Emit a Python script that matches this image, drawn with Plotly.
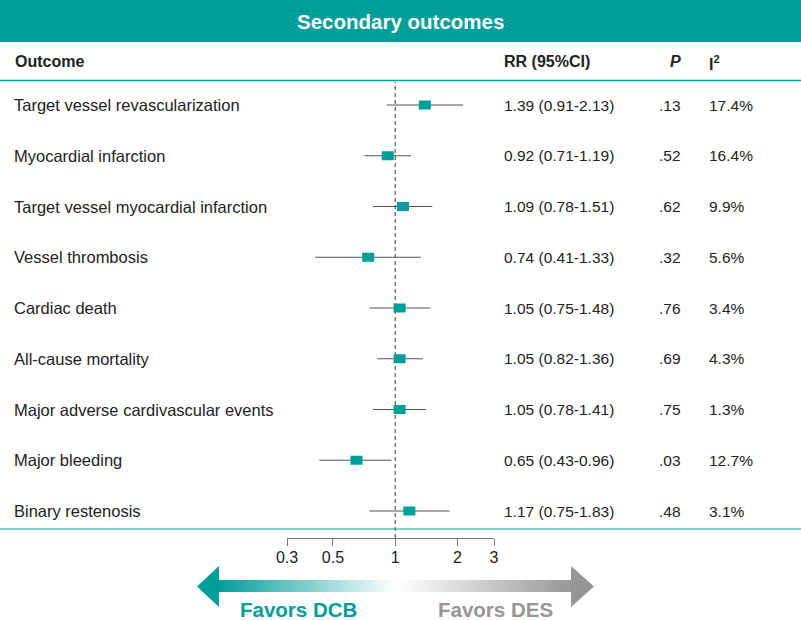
import math
import plotly.graph_objects as go

# ---------------- data ----------------
outcomes = [
    "Target vessel revascularization",
    "Myocardial infarction",
    "Target vessel myocardial infarction",
    "Vessel thrombosis",
    "Cardiac death",
    "All-cause mortality",
    "Major adverse cardivascular events",
    "Major bleeding",
    "Binary restenosis",
]
rr = [1.39, 0.92, 1.09, 0.74, 1.05, 1.05, 1.05, 0.65, 1.17]
ci_lo = [0.91, 0.71, 0.78, 0.41, 0.75, 0.82, 0.78, 0.43, 0.75]
ci_hi = [2.13, 1.19, 1.51, 1.33, 1.48, 1.36, 1.41, 0.96, 1.83]
p_vals = [".13", ".52", ".62", ".32", ".76", ".69", ".75", ".03", ".48"]
i2_vals = ["17.4%", "16.4%", "9.9%", "5.6%", "3.4%", "4.3%", "1.3%", "12.7%", "3.1%"]
tick_vals = [0.3, 0.5, 1, 2, 3]
tick_text = ["0.3", "0.5", "1", "2", "3"]

# ---------------- style ----------------
W, H = 801, 620
TEAL = "#009E9A"
TXT = "#222222"
FONT = "Liberation Sans, Arial, sans-serif"


def px(x):
    return x / W


def py(y):
    return 1 - y / H


row_top, row_step = 105.0, 50.75
y_range = [(H - row_top) / row_step, -row_top / row_step]

lx = [math.log10(v) for v in rr]
err_plus = [math.log10(h) - math.log10(v) for h, v in zip(ci_hi, rr)]
err_minus = [math.log10(v) - math.log10(l) for l, v in zip(ci_lo, rr)]
rows = list(range(len(outcomes)))

fig = go.Figure()
fig.add_trace(go.Scatter(
    x=lx, y=rows, mode="markers",
    marker=dict(size=1, color="rgba(0,0,0,0)"),
    error_x=dict(type="data", symmetric=False, array=err_plus, arrayminus=err_minus,
                 color="#555555", thickness=1.1, width=0),
    hoverinfo="skip", showlegend=False, cliponaxis=False,
))

shapes = []
shapes.append(dict(type="rect", xref="paper", yref="paper", x0=0, x1=1, y0=py(42), y1=1,
                   fillcolor=TEAL, line_width=0, layer="below"))
shapes.append(dict(type="line", xref="paper", yref="paper", x0=0, x1=1, y0=py(80.5), y1=py(80.5),
                   line=dict(color=TEAL, width=1.6)))
shapes.append(dict(type="line", xref="paper", yref="paper", x0=0, x1=1, y0=py(529), y1=py(529),
                   line=dict(color=TEAL, width=1.2)))
shapes.append(dict(type="line", xref="x", yref="paper", x0=0, x1=0, y0=py(538), y1=py(82),
                   line=dict(color="#666666", width=1.3, dash="4px,3px"), layer="below"))
for xv, r in zip(lx, rows):
    shapes.append(dict(type="rect", xref="x", yref="y", xsizemode="pixel", ysizemode="pixel",
                       xanchor=xv, yanchor=r, x0=-6, x1=6, y0=-4.5, y1=4.5,
                       fillcolor=TEAL, line_width=0))


def lerp(c1, c2, t):
    return "rgb(%d,%d,%d)" % tuple(round(a + (b - a) * t) for a, b in zip(c1, c2))


teal_rgb, white_rgb, gray_rgb = (0, 158, 154), (255, 255, 255), (150, 150, 153)
N = 60
sy0, sy1 = 580, 592
lx0, lx1 = 218, 396
for k in range(N):
    a = lx0 + (lx1 - lx0) * k / N
    b = lx0 + (lx1 - lx0) * (k + 1) / N + 0.6
    shapes.append(dict(type="rect", xref="paper", yref="paper", x0=px(a), x1=px(b),
                       y0=py(sy1), y1=py(sy0), fillcolor=lerp(teal_rgb, white_rgb, (k + 0.5) / N),
                       line_width=0))
rx0, rx1 = 399, 572
for k in range(N):
    a = rx0 + (rx1 - rx0) * k / N
    b = rx0 + (rx1 - rx0) * (k + 1) / N + 0.6
    shapes.append(dict(type="rect", xref="paper", yref="paper", x0=px(a), x1=px(b),
                       y0=py(sy1), y1=py(sy0), fillcolor=lerp(white_rgb, gray_rgb, (k + 0.5) / N),
                       line_width=0))
shapes.append(dict(type="path", xref="paper", yref="paper",
                   path="M %f,%f L %f,%f L %f,%f Z" % (px(197), py(586.5), px(219), py(566), px(219), py(607)),
                   fillcolor=TEAL, line_width=0))
shapes.append(dict(type="path", xref="paper", yref="paper",
                   path="M %f,%f L %f,%f L %f,%f Z" % (px(594), py(586.5), px(571), py(566), px(571), py(607)),
                   fillcolor="rgb(150,150,153)", line_width=0))

ann = []
ann.append(dict(text="<b>Secondary outcomes</b>", xref="paper", yref="paper", x=px(400), y=py(21),
                xanchor="center", yanchor="middle", showarrow=False,
                font=dict(family=FONT, size=20.5, color="white")))
hdr_y = py(61)
ann.append(dict(text="<b>Outcome</b>", xref="paper", yref="paper", x=px(13), y=hdr_y,
                xanchor="left", yanchor="middle", showarrow=False, font=dict(family=FONT, size=16, color=TXT)))
ann.append(dict(text="<b>RR (95%CI)</b>", xref="paper", yref="paper", x=px(502), y=hdr_y,
                xanchor="left", yanchor="middle", showarrow=False, font=dict(family=FONT, size=16, color=TXT)))
ann.append(dict(text="<b><i>P</i></b>", xref="paper", yref="paper", x=px(683), y=hdr_y,
                xanchor="right", yanchor="middle", showarrow=False, font=dict(family=FONT, size=16, color=TXT)))
ann.append(dict(text="<b>I<sup>2</sup></b>", xref="paper", yref="paper", x=px(707), y=hdr_y - 0.003,
                xanchor="left", yanchor="middle", showarrow=False, font=dict(family=FONT, size=16, color=TXT)))

for r, name, v, l, h, p, i2 in zip(rows, outcomes, rr, ci_lo, ci_hi, p_vals, i2_vals):
    ann.append(dict(text=name, xref="paper", yref="y", x=px(12), y=r, xanchor="left", yanchor="middle",
                    showarrow=False, font=dict(family=FONT, size=16.5, color=TXT)))
    ann.append(dict(text="%.2f (%.2f-%.2f)" % (v, l, h), xref="paper", yref="y", x=px(502), y=r,
                    xanchor="left", yanchor="middle", showarrow=False, font=dict(family=FONT, size=15.5, color=TXT)))
    ann.append(dict(text=p, xref="paper", yref="y", x=px(683), y=r, xanchor="right", yanchor="middle",
                    showarrow=False, font=dict(family=FONT, size=15.5, color=TXT)))
    ann.append(dict(text=i2, xref="paper", yref="y", x=px(707), y=r, xanchor="left", yanchor="middle",
                    showarrow=False, font=dict(family=FONT, size=15.5, color=TXT)))

ann.append(dict(text="<b>Favors DCB</b>", xref="paper", yref="paper", x=px(298), y=py(609),
                xanchor="center", yanchor="middle", showarrow=False,
                font=dict(family=FONT, size=20.5, color=TEAL)))
ann.append(dict(text="<b>Favors DES</b>", xref="paper", yref="paper", x=px(496), y=py(609),
                xanchor="center", yanchor="middle", showarrow=False,
                font=dict(family=FONT, size=20.5, color="rgb(150,150,153)")))

fig.update_layout(
    width=W, height=H, margin=dict(l=0, r=0, t=0, b=0, pad=0, autoexpand=False),
    paper_bgcolor="white", plot_bgcolor="white",
    shapes=shapes, annotations=ann, showlegend=False,
    xaxis=dict(domain=[px(287), px(494)], range=[math.log10(0.3), math.log10(3)],
               anchor="free", position=py(538), showgrid=False, zeroline=False,
               showline=True, linecolor="#777777", linewidth=1.2,
               ticks="outside", ticklen=7, tickwidth=1.2, tickcolor="#777777",
               tickvals=[math.log10(t) for t in tick_vals], ticktext=tick_text,
               tickfont=dict(family=FONT, size=16, color=TXT), fixedrange=True,
               ticklabelstandoff=-2, automargin=False),
    yaxis=dict(domain=[0, 1], range=y_range, visible=False, fixedrange=True, automargin=False),
)

fig.write_html(
    "out.html",
    config={"displayModeBar": False},
    post_script="document.body.style.margin='0';document.body.style.padding='0';"
                "document.body.style.overflow='hidden';",
)
